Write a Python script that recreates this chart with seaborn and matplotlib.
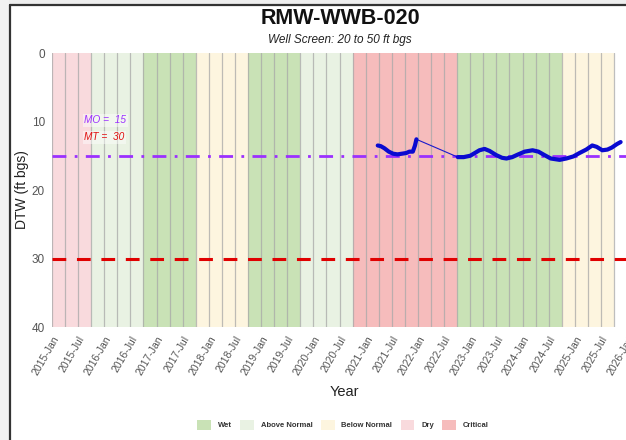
import matplotlib
matplotlib.use("Agg")
import matplotlib.pyplot as plt
from matplotlib.patches import Patch
from matplotlib.lines import Line2D
import pandas as pd
import seaborn as sns

# ---- data -----------------------------------------------------------------
well_name = "RMW-WWB-020"
screen_text = "Well Screen: 20 to 50 ft bgs"

# water-year classification (water year N runs Oct N-1 .. Sep N)
water_years = [2015, 2016, 2017, 2018, 2019, 2020, 2021, 2022, 2023, 2024, 2025]
wy_types = ["Dry", "Above Normal", "Wet", "Below Normal", "Wet", "Above Normal",
            "Critical", "Critical", "Wet", "Wet", "Below Normal"]

# sustainability thresholds
mo_value = 15
mt_value = 30

# depth-to-water record, first logger period
seg1_dates = ["2021-03-25", "2021-04-15", "2021-05-10", "2021-06-10", "2021-07-10",
              "2021-08-10", "2021-09-10", "2021-10-10", "2021-11-01", "2021-11-25",
              "2021-12-10", "2021-12-20"]
seg1_dtw = [13.5, 13.6, 13.9, 14.4, 14.7, 14.8, 14.7, 14.6, 14.4, 14.4, 13.5, 12.6]

# depth-to-water record, second logger period
seg2_dates = ["2022-10-05", "2022-11-15", "2022-12-31", "2023-02-01", "2023-03-05",
              "2023-04-10", "2023-05-15", "2023-06-30", "2023-08-10", "2023-09-10",
              "2023-10-20", "2023-12-01", "2024-01-15", "2024-03-10", "2024-04-20",
              "2024-06-01", "2024-07-15", "2024-09-15", "2024-11-01", "2024-12-20",
              "2025-02-01", "2025-03-20", "2025-05-01", "2025-06-01", "2025-07-10",
              "2025-08-15", "2025-09-15", "2025-10-20", "2025-11-15"]
seg2_dtw = [15.2, 15.2, 15.0, 14.6, 14.2, 14.0, 14.3, 14.9, 15.3, 15.4,
            15.2, 14.8, 14.4, 14.2, 14.4, 14.9, 15.4, 15.6, 15.4, 15.1,
            14.6, 14.1, 13.5, 13.7, 14.2, 14.1, 13.8, 13.3, 13.0]

wy_colors = {
    "Wet": "#c9e2b6",
    "Above Normal": "#e9f2e3",
    "Below Normal": "#fdf5df",
    "Dry": "#f9dadd",
    "Critical": "#f6bcbc",
}
legend_order = ["Wet", "Above Normal", "Below Normal", "Dry", "Critical"]

# ---- frame ----------------------------------------------------------------
sns.set_theme(style="white")
plt.rcParams["font.family"] = ["Liberation Sans", "DejaVu Sans"]

fig = plt.figure(figsize=(6.26, 4.40), dpi=100)
fig.patch.set_facecolor("white")

# outer border of the page
fig.add_artist(plt.Rectangle((0, 1 - 5 / 440), 1, 5 / 440, transform=fig.transFigure,
                             facecolor="#eeeeee", edgecolor="none", zorder=0))
fig.add_artist(plt.Rectangle((0, 0), 9 / 626, 1, transform=fig.transFigure,
                             facecolor="#f2f2f2", edgecolor="none", zorder=0))
fig.add_artist(Line2D([9.5 / 626, 1], [1 - 5.5 / 440, 1 - 5.5 / 440], transform=fig.transFigure,
                      color="#333333", lw=1.6))
fig.add_artist(Line2D([9.5 / 626, 9.5 / 626], [0, 1 - 5.5 / 440], transform=fig.transFigure,
                      color="#333333", lw=1.6))

x0 = pd.Timestamp("2015-01-01")
x1 = pd.Timestamp("2026-03-01")
px_per_year = 52.3
span_years = (x1 - x0).days / 365.25
ax_w_px = span_years * px_per_year
ax = fig.add_axes([52 / 626, 1 - 327 / 440, ax_w_px / 626, (327 - 53) / 440])

# water-year bands
for wy, t in zip(water_years, wy_types):
    ax.axvspan(pd.Timestamp(f"{wy - 1}-10-01"), pd.Timestamp(f"{wy}-10-01"),
               facecolor=wy_colors[t], edgecolor="none", zorder=0)

# quarterly grid lines
for q in pd.date_range("2015-01-01", "2025-10-01", freq="QS"):
    ax.axvline(q, color="#a8a8a8", lw=0.9, alpha=0.75, zorder=1)

# thresholds
ax.axhline(mo_value, color="#9b30ff", lw=2.0, ls=(0, (5, 3, 1, 3)), zorder=3)
ax.axhline(mt_value, color="#e00000", lw=2.2, ls=(0, (4.5, 3.5)), zorder=3)

ax.text(pd.Timestamp("2015-08-15"), 9.8, f"MO =  {mo_value}", color="#9b30ff", style="italic",
        fontsize=7.3, va="center", ha="left", zorder=4,
        bbox=dict(facecolor="white", alpha=0.45, edgecolor="none", pad=1))
ax.text(pd.Timestamp("2015-08-15"), 12.3, f"MT =  {mt_value}", color="#e01010", style="italic",
        fontsize=7.3, va="center", ha="left", zorder=4,
        bbox=dict(facecolor="white", alpha=0.45, edgecolor="none", pad=1))

# groundwater levels
seg1 = pd.DataFrame({"date": pd.to_datetime(seg1_dates), "dtw": seg1_dtw})
seg2 = pd.DataFrame({"date": pd.to_datetime(seg2_dates), "dtw": seg2_dtw})
allpts = pd.concat([seg1, seg2], ignore_index=True)
sns.lineplot(data=allpts, x="date", y="dtw", color="#1a1acc", lw=0.8, ax=ax, zorder=5)
sns.lineplot(data=seg1, x="date", y="dtw", color="#0a0ad0", lw=3.0, ax=ax, zorder=6)
sns.lineplot(data=seg2, x="date", y="dtw", color="#0a0ad0", lw=3.0, ax=ax, zorder=6)

# axes
ax.set_xlim(x0, x1)
ax.set_ylim(40, 0)
ax.set_yticks([0, 10, 20, 30, 40])
ticks = pd.date_range("2015-01-01", "2026-01-01", freq="6MS")
ax.set_xticks(ticks)
ax.set_xticklabels([d.strftime("%Y-%b") for d in ticks], rotation=60, ha="right",
                   rotation_mode="anchor", fontsize=7.5, color="#555555")
ax.tick_params(axis="y", labelsize=8.5, colors="#555555", length=3, width=0.6, pad=2)
ax.tick_params(axis="x", length=3, width=0.6, colors="#555555", pad=2)
ax.set_xlabel("Year", fontsize=10.5, color="#222222", labelpad=6)
ax.set_ylabel("DTW (ft bgs)", fontsize=10, color="#222222")
ax.yaxis.set_label_coords(-23 / ax_w_px, 0.5)
for s in ax.spines.values():
    s.set_visible(False)

fig.text(340 / 626, 1 - 19 / 440, well_name, ha="center", va="center",
         fontsize=15.5, fontweight="bold", color="#111111")
fig.text(340 / 626, 1 - 40 / 440, screen_text, ha="center", va="center",
         fontsize=8.5, style="italic", color="#222222")

handles = [Patch(facecolor=wy_colors[k], edgecolor="none", label=k) for k in legend_order]
leg = fig.legend(handles=handles, loc="center", bbox_to_anchor=(343 / 626, 1 - 425 / 440),
                 ncol=5, frameon=False, fontsize=5.5, handlelength=1.8, handleheight=1.8,
                 columnspacing=1.1, handletextpad=0.9)
for t in leg.get_texts():
    t.set_fontweight("bold")
    t.set_color("#333333")

fig.savefig("out.png", dpi=100)
